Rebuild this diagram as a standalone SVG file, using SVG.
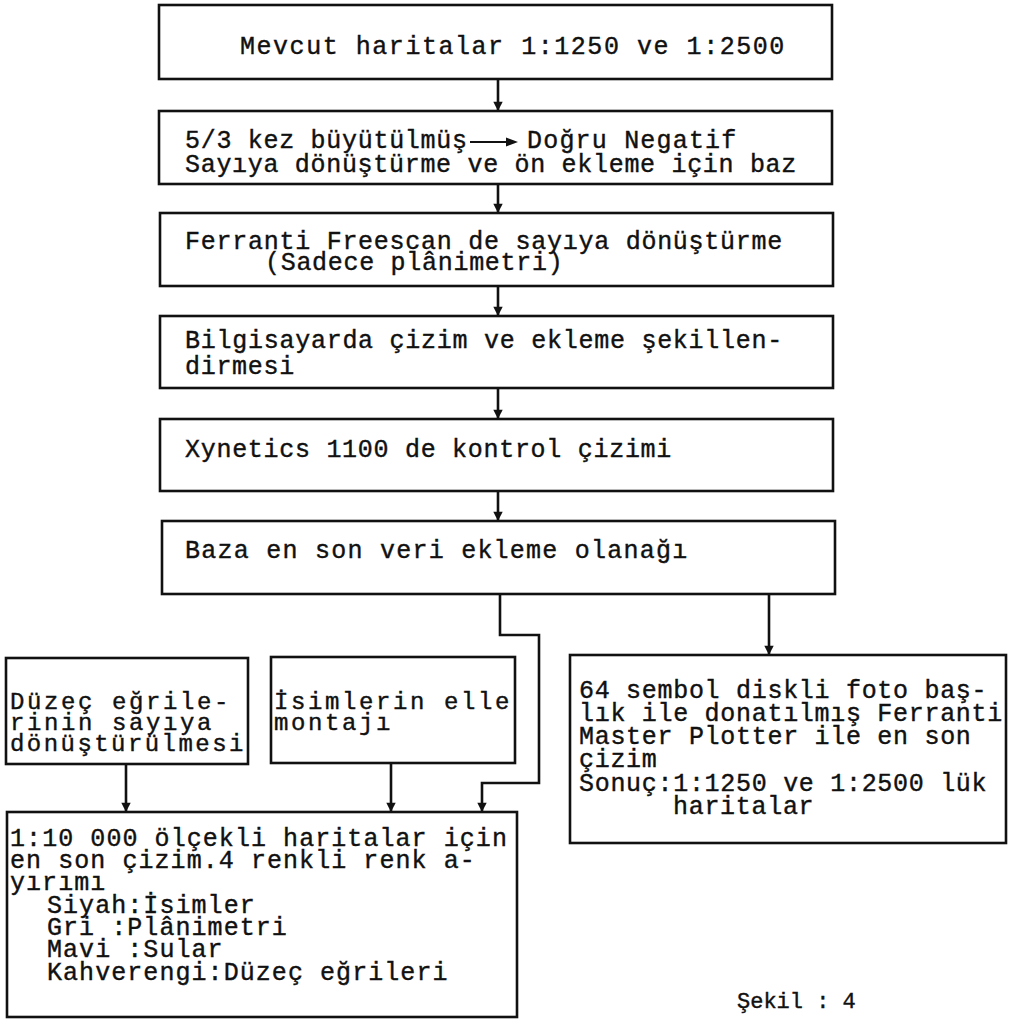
<svg xmlns="http://www.w3.org/2000/svg" width="1013" height="1019" viewBox="0 0 1013 1019">
<defs>
<style>
.box{fill:#fff;stroke:#111;stroke-width:2.6}
.t{font-family:"Liberation Mono","Courier New",monospace;font-size:25px;fill:#111;stroke:#111;stroke-width:0.4;letter-spacing:0.7px}
.t2{font-size:24px;letter-spacing:2.6px}
.t3{letter-spacing:1.06px}
.con{fill:none;stroke:#111;stroke-width:2.6;marker-end:url(#ah)}
</style>
<marker id="ah" viewBox="0 0 10 10" refX="10" refY="5" markerWidth="4" markerHeight="3.6" markerUnits="strokeWidth" orient="auto">
<path d="M0,0 L10,5 L0,10 Z" fill="#111"/>
</marker>
</defs>
<rect width="1013" height="1019" fill="#fff"/>
<g id="connectors">
<line class="con" x1="498" y1="79" x2="498" y2="111"/>
<line class="con" x1="498" y1="184" x2="498" y2="213"/>
<line class="con" x1="498" y1="286" x2="498" y2="316"/>
<line class="con" x1="498" y1="388" x2="498" y2="419"/>
<line class="con" x1="498" y1="491" x2="498" y2="521"/>
<path class="con" d="M500,594 V635 H539 V783 H482 V812"/>
<line class="con" x1="769" y1="594" x2="769" y2="655"/>
<line class="con" x1="126" y1="764" x2="126" y2="812"/>
<line class="con" x1="391" y1="763" x2="391" y2="812"/>
</g>
<g id="n1">
<rect class="box" x="159" y="5" width="673" height="74"/>
<text class="t" x="240" y="54" textLength="545" lengthAdjust="spacing">Mevcut haritalar 1:1250 ve 1:2500</text>
</g>
<g id="n2">
<rect class="box" x="159" y="111" width="673" height="73"/>
<text class="t" x="185" y="148">5/3 kez büyütülmüş<tspan x="527" textLength="210" lengthAdjust="spacing">Doğru Negatif</tspan></text>
<line x1="470" y1="142" x2="510" y2="142" stroke="#111" stroke-width="2"/>
<path d="M506,137.5 L518,142 L506,146.5 Z" fill="#111"/>
<text class="t" x="185" y="172" textLength="612" lengthAdjust="spacing">Sayıya dönüştürme ve ön ekleme için baz</text>
</g>
<g id="n3">
<rect class="box" x="160" y="213" width="673" height="73"/>
<text class="t" x="185" y="249" textLength="598" lengthAdjust="spacing">Ferranti Freescan de sayıya dönüştürme</text>
<text class="t" x="265" y="270">(Sadece plânimetri)</text>
</g>
<g id="n4">
<rect class="box" x="160" y="316" width="673" height="72"/>
<text class="t" x="185" y="348" textLength="598" lengthAdjust="spacing">Bilgisayarda çizim ve ekleme şekillen-</text>
<text class="t" x="185" y="374">dirmesi</text>
</g>
<g id="n5">
<rect class="box" x="160" y="419" width="673" height="72"/>
<text class="t" x="185" y="457" textLength="487" lengthAdjust="spacing">Xynetics 1100 de kontrol çizimi</text>
</g>
<g id="n6">
<rect class="box" x="162" y="521" width="673" height="73"/>
<text class="t" x="185" y="558" textLength="503" lengthAdjust="spacing">Baza en son veri ekleme olanağı</text>
</g>
<g id="n7">
<rect class="box" x="570" y="655" width="436" height="188"/>
<text class="t" x="579" y="698">64 sembol diskli foto baş-</text>
<text class="t" x="579" y="721">lık ile donatılmış Ferranti</text>
<text class="t" x="579" y="744">Master Plotter ile en son</text>
<text class="t" x="579" y="767">çizim</text>
<text class="t" x="579" y="791">Sonuç:1:1250 ve 1:2500 lük</text>
<text class="t" x="673" y="814">haritalar</text>
</g>
<g id="n8">
<rect class="box" x="6" y="658" width="242" height="106"/>
<text class="t t2" x="10" y="709">Düzeç eğrile-</text>
<text class="t t2" x="10" y="730">rinin sayıya</text>
<text class="t t2" x="10" y="751" textLength="236" lengthAdjust="spacing">dönüştürülmesi</text>
</g>
<g id="n9">
<rect class="box" x="271" y="657" width="244" height="106"/>
<text class="t t2" x="274" y="709" textLength="238" lengthAdjust="spacing">İsimlerin elle</text>
<text class="t t2" x="274" y="730">montajı</text>
</g>
<g id="n10">
<rect class="box" x="7" y="812" width="510" height="205"/>
<text class="t t3" x="10" y="846" textLength="498" lengthAdjust="spacing">1:10 000 ölçekli haritalar için</text>
<text class="t t3" x="10" y="868">en son çizim.4 renkli renk a-</text>
<text class="t t3" x="10" y="890">yırımı</text>
<text class="t t3" x="47" y="913">Siyah:İsimler</text>
<text class="t t3" x="47" y="935">Gri  :Plânimetri</text>
<text class="t t3" x="47" y="957">Mavi :Sular</text>
<text class="t t3" x="47" y="980">Kahverengi:Düzeç eğrileri</text>
</g>
<g id="caption">
<text class="t" x="737" y="1008" style="font-size:22px;letter-spacing:0">Şekil : 4</text>
</g>
</svg>
